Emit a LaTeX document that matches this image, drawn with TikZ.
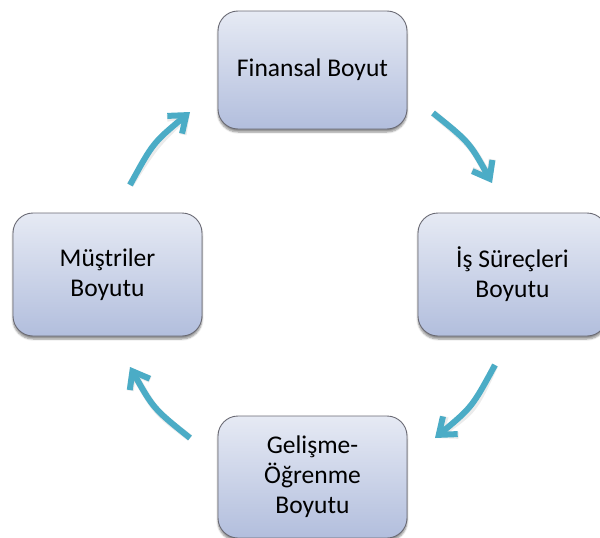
\documentclass[tikz,border=0pt]{standalone}
\usepackage{fontspec}
\setmainfont{Carlito}
\usetikzlibrary{arrows.meta,shadows.blur}

\definecolor{boxtop}{HTML}{E6EAF4}
\definecolor{boxbot}{HTML}{B2BEDD}
\definecolor{boxline}{HTML}{6A6A74}
\definecolor{flowcol}{HTML}{4BACC6}

\tikzset{
  stage/.style={
    draw=boxline, line width=0.9pt, rounded corners=20pt,
    top color=boxtop, bottom color=boxbot,
    minimum width=189pt, inner sep=0pt, align=center,
    font=\fontsize{25.5}{30}\selectfont,
    blur shadow={shadow xshift=0pt, shadow yshift=-3pt, shadow blur steps=6, shadow opacity=45}
  },
  flow/.style={
    draw=flowcol, line width=6pt,
    -{Straight Barb[length=15pt, width=23pt, line width=6pt]}
  },
  flowshade/.style={
    draw=black, opacity=0.08, line width=7pt,
    -{Straight Barb[length=15pt, width=23pt, line width=7pt]}
  }
}

\begin{document}
\begin{tikzpicture}[x=1pt, y=-1pt]
  \useasboundingbox (0,0) rectangle (600,538);

  % the four perspectives
  \node[stage, minimum height=118pt] (fin) at (312.5,70)  {Finansal Boyut};
  \node[stage, minimum height=123pt] (sur) at (512.5,274.5) {İş Süreçleri\\Boyutu};
  \node[stage, minimum height=122pt] (gel) at (312.5,477) {Gelişme-\\Öğrenme\\Boyutu};
  \node[stage, minimum height=123pt] (mus) at (107.5,274.5) {Müştriler\\Boyutu};

  % free ends of the cycle arrows
  \coordinate (a1s) at (433,113); \coordinate (a1e) at (492,183);
  \coordinate (a2s) at (495,365); \coordinate (a2e) at (435,438);
  \coordinate (a3s) at (190,438); \coordinate (a3e) at (130,367);
  \coordinate (a4s) at (130,185); \coordinate (a4e) at (190,112);

  % soft shadows under the arrows
  \begin{scope}[shift={(2,3)}]
    \draw[flowshade] (a1s) .. controls (469.4,142.2) .. (a1e);
    \draw[flowshade] (a2s) .. controls (472,407.2) .. (a2e);
    \draw[flowshade] (a3s) .. controls (153.6,408.8) .. (a3e);
    \draw[flowshade] (a4s) .. controls (153,142.8) .. (a4e);
  \end{scope}

  % clockwise cycle arrows
  \draw[flow] (a1s) .. controls (469.4,142.2) .. (a1e);
  \draw[flow] (a2s) .. controls (472,407.2) .. (a2e);
  \draw[flow] (a3s) .. controls (153.6,408.8) .. (a3e);
  \draw[flow] (a4s) .. controls (153,142.8) .. (a4e);
\end{tikzpicture}
\end{document}
